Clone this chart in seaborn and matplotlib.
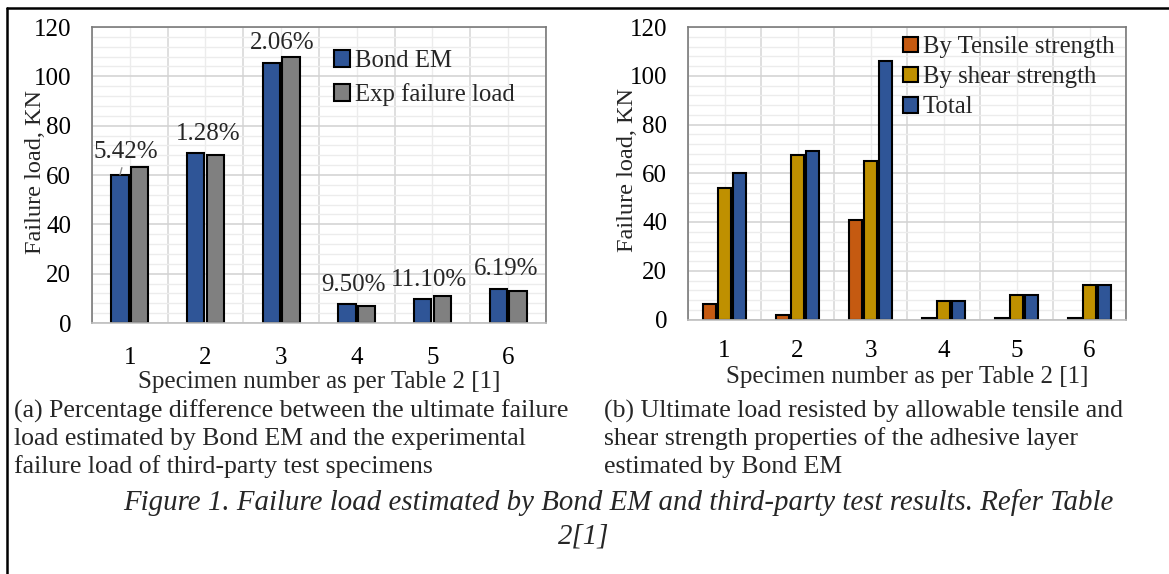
import matplotlib
matplotlib.use("Agg")
import matplotlib.pyplot as plt
import seaborn as sns
import pandas as pd
import numpy as np
from matplotlib.lines import Line2D
from matplotlib.patches import Patch

# ---------------- data ----------------
specimens = ["1", "2", "3", "4", "5", "6"]
bond_em = [60.1, 68.8, 105.5, 7.6, 9.7, 13.9]
exp_failure = [63.2, 68.1, 107.8, 6.9, 11.0, 13.1]
pct_labels = ["5.42%", "1.28%", "2.06%", "9.50%", "11.10%", "6.19%"]

by_tensile = [6.3, 1.8, 40.9, 0.5, 0.5, 0.5]
by_shear = [53.8, 67.4, 64.9, 7.7, 9.9, 14.0]
total = [60.1, 69.1, 106.0, 7.7, 9.9, 14.0]

left_series = ["Bond EM", "Exp failure load"]
right_series = ["By Tensile strength", "By shear strength", "Total"]

ytick_vals = [0, 20, 40, 60, 80, 100, 120]
xlabel = "Specimen number as per Table 2 [1]"
ylabel = "Failure load, KN"
cap_a = ["(a) Percentage difference between the ultimate failure",
         "load estimated by Bond EM and the experimental",
         "failure load of third-party test specimens"]
cap_b = ["(b) Ultimate load resisted by allowable tensile and",
         "shear strength properties of the adhesive layer",
         "estimated by Bond EM"]
fig_cap = ["Figure 1. Failure load estimated by Bond EM and third-party test results. Refer Table",
           "2[1]"]

# ---------------- layout / style ----------------
label_x = [-0.05, 1.03, 2.02, 2.95, 3.96, 4.97]
label_y = [69.3, 76.8, 113.5, 15.3, 17.3, 22.0]

left_colors = ["#2F5597", "#808080"]
right_colors = ["#C55A11", "#BF9000", "#2F5597"]

sns.set_theme(style="white")
plt.rcParams["font.family"] = ["Liberation Serif", "DejaVu Serif"]
FS = 18
LFS = 17.8

W, H = 1169, 574
fig = plt.figure(figsize=(W / 100, H / 100), dpi=100)


def px_axes(l, t, r, b):
    return fig.add_axes([l / W, 1 - b / H, (r - l) / W, (b - t) / H])


def style_axes(ax, xpad, xlabelpad, ylab_x):
    ax.set_xlim(-0.5, 5.5)
    ax.set_ylim(0, 120)
    ax.set_yticks(ytick_vals)
    ax.set_yticks(np.arange(0, 121, 4), minor=True)
    ax.set_xticks(range(6))
    ax.set_xticks(np.arange(-0.5, 6, 1), minor=True)
    ax.set_xticklabels(specimens)
    ax.tick_params(axis="y", which="both", length=0, pad=15, labelsize=FS, colors="black")
    ax.tick_params(axis="x", which="major", length=0, pad=xpad, labelsize=FS, colors="black")
    ax.tick_params(axis="x", which="minor", length=7, width=1.2, color="#bfbfbf", direction="out")
    ax.set_axisbelow(True)
    ax.yaxis.grid(True, which="major", color="#d4d4d4", lw=1.2)
    ax.yaxis.grid(True, which="minor", color="#ececec", lw=1.0)
    ax.xaxis.grid(True, which="minor", color="#d9d9d9", lw=1.2)
    ax.xaxis.grid(True, which="major", color="#ececec", lw=1.0)
    for s in ax.spines.values():
        s.set_visible(True)
        s.set_color("#7a7a7a")
        s.set_linewidth(1.2)
    ax.spines["bottom"].set_color("#bfbfbf")
    ax.set_xlabel(xlabel, fontsize=FS, labelpad=xlabelpad)
    ax.set_ylabel(ylabel, fontsize=17.5, va="center", ha="center")
    ax.yaxis.set_label_coords(ylab_x, 0.51)


# ---------------- left chart ----------------
axL = px_axes(92, 27, 546, 323)
dfL = pd.DataFrame({
    "Specimen": specimens * 2,
    "Load": bond_em + exp_failure,
    "Series": [left_series[0]] * 6 + [left_series[1]] * 6,
})
sns.barplot(data=dfL, x="Specimen", y="Load", hue="Series", order=specimens,
            hue_order=left_series, palette=left_colors, width=0.52, gap=0.12,
            edgecolor="black", linewidth=1.5, saturation=1, legend=False, ax=axL)
style_axes(axL, xpad=17, xlabelpad=2, ylab_x=-0.124)
slotL = 0.52 / 2
for i, (txt, lx, ly) in enumerate(zip(pct_labels, label_x, label_y)):
    if i == 0:
        axL.annotate(txt, xy=(i - slotL / 2, bond_em[i]), xytext=(lx, ly),
                     ha="center", va="center", fontsize=FS,
                     arrowprops=dict(arrowstyle="-", color="#8c8c8c", lw=1,
                                     shrinkA=1, shrinkB=0))
    else:
        axL.text(lx, ly, txt, ha="center", va="center", fontsize=FS)
hL = [Patch(facecolor=c, edgecolor="black", lw=1.5) for c in left_colors]
axL.legend(hL, left_series, loc="upper left", bbox_to_anchor=(0.533, 0.922),
           frameon=False, fontsize=LFS, handlelength=0.65, handleheight=0.65,
           handletextpad=0.2, labelspacing=0.45, borderpad=0, borderaxespad=0)

# ---------------- right chart ----------------
axR = px_axes(688, 27, 1126, 319.5)
dfR = pd.DataFrame({
    "Specimen": specimens * 3,
    "Load": by_tensile + by_shear + total,
    "Series": [right_series[0]] * 6 + [right_series[1]] * 6 + [right_series[2]] * 6,
})
sns.barplot(data=dfR, x="Specimen", y="Load", hue="Series", order=specimens,
            hue_order=right_series, palette=right_colors, width=0.63, gap=0.15,
            edgecolor="black", linewidth=1.5, saturation=1, legend=False, ax=axR)
style_axes(axR, xpad=15, xlabelpad=3, ylab_x=-0.137)
hR = [Patch(facecolor=c, edgecolor="black", lw=1.5) for c in right_colors]
axR.legend(hR, right_series, loc="upper left", bbox_to_anchor=(0.491, 0.969),
           frameon=False, fontsize=LFS, handlelength=0.6, handleheight=0.6,
           handletextpad=0.2, labelspacing=0.33, borderpad=0, borderaxespad=0)

# ---------------- captions ----------------
CF = 18.5
for k, line in enumerate(cap_a):
    fig.text(14 / W, 1 - (411 + 28 * k) / H, line, fontsize=CF, ha="left", va="center")
for k, line in enumerate(cap_b):
    fig.text(604 / W, 1 - (411 + 28 * k) / H, line, fontsize=CF, ha="left", va="center")
fig.text(123 / W, 1 - 503 / H, fig_cap[0], fontsize=20.8, style="italic", ha="left", va="center")
fig.text(584 / W, 1 - 537 / H, fig_cap[1], fontsize=20.8, style="italic", ha="center", va="center")

# ---------------- frame lines ----------------
fig.add_artist(Line2D([7 / W, 1], [1 - 8 / H, 1 - 8 / H], color="black", lw=1.8,
                      transform=fig.transFigure))
fig.add_artist(Line2D([7 / W, 7 / W], [0, 1 - 8 / H], color="black", lw=1.8,
                      transform=fig.transFigure))

fig.savefig("out.png", dpi=100, facecolor="white")
